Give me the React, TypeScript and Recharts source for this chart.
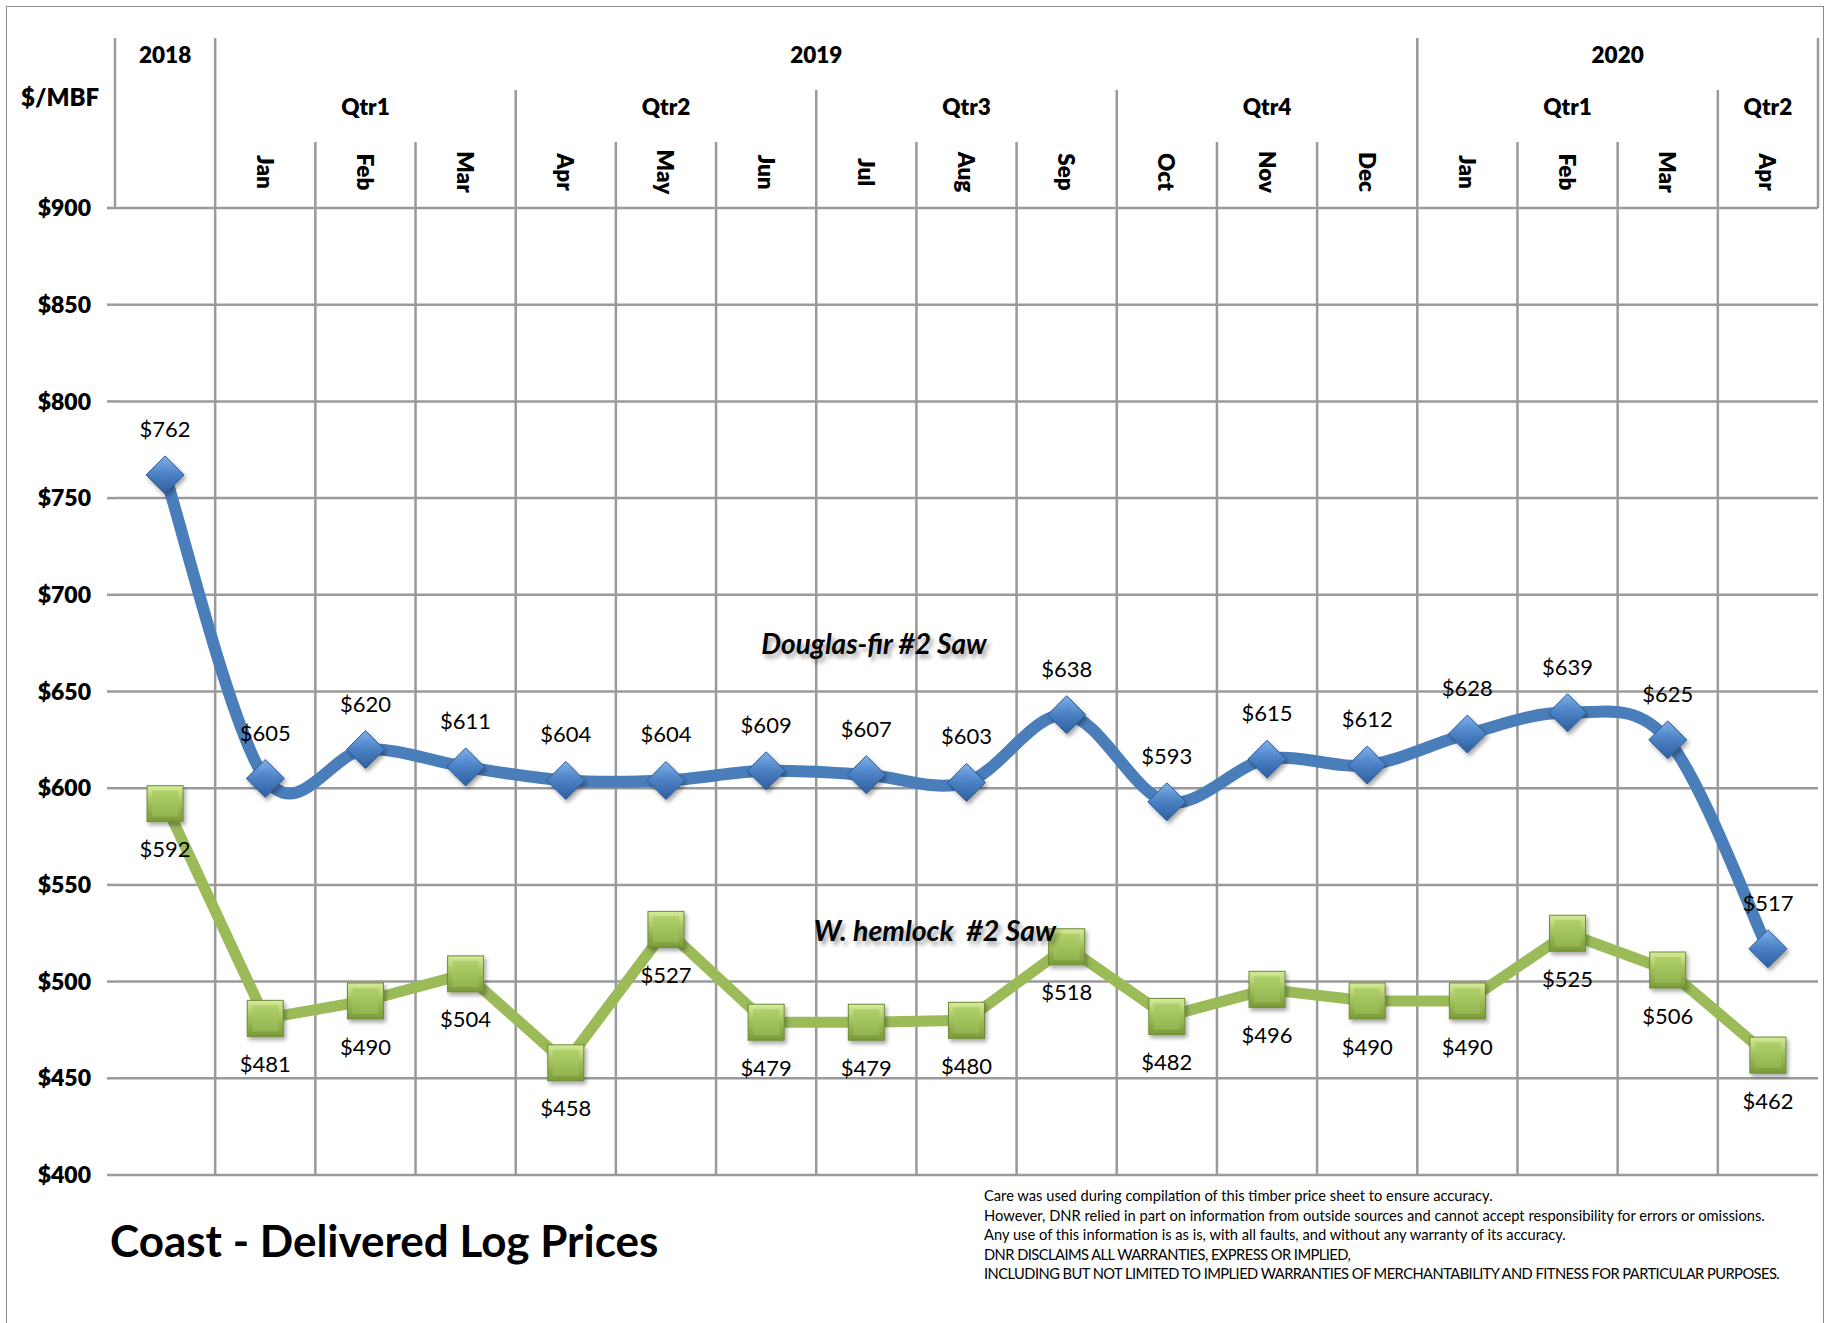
import { CartesianGrid, LabelList, Line, LineChart, XAxis, YAxis } from 'recharts'

const keys = [
  '2018', '2019-Jan', '2019-Feb', '2019-Mar', '2019-Apr', '2019-May', '2019-Jun',
  '2019-Jul', '2019-Aug', '2019-Sep', '2019-Oct', '2019-Nov', '2019-Dec',
  '2020-Jan', '2020-Feb', '2020-Mar', '2020-Apr',
]
const years = ['2018', '2019', '2019', '2019', '2019', '2019', '2019', '2019', '2019', '2019', '2019', '2019', '2019', '2020', '2020', '2020', '2020']
const quarters = ['', 'Qtr1', 'Qtr1', 'Qtr1', 'Qtr2', 'Qtr2', 'Qtr2', 'Qtr3', 'Qtr3', 'Qtr3', 'Qtr4', 'Qtr4', 'Qtr4', 'Qtr1', 'Qtr1', 'Qtr1', 'Qtr2']
const months = ['', 'Jan', 'Feb', 'Mar', 'Apr', 'May', 'Jun', 'Jul', 'Aug', 'Sep', 'Oct', 'Nov', 'Dec', 'Jan', 'Feb', 'Mar', 'Apr']

const firPrices = [762, 605, 620, 611, 604, 604, 609, 607, 603, 638, 593, 615, 612, 628, 639, 625, 517]
const hemlockPrices = [592, 481, 490, 504, 458, 527, 479, 479, 480, 518, 482, 496, 490, 490, 525, 506, 462]

const yTicks = [400, 450, 500, 550, 600, 650, 700, 750, 800, 850, 900]

const disclaimer = [
  'Care was used during compilation of this timber price sheet to ensure accuracy.',
  'However, DNR relied in part on information from outside sources and cannot accept responsibility for errors or omissions.',
  'Any use of this information is as is, with all faults, and without any warranty of its accuracy.',
  'DNR DISCLAIMS ALL WARRANTIES, EXPRESS OR IMPLIED,',
  'INCLUDING BUT NOT LIMITED TO IMPLIED WARRANTIES OF MERCHANTABILITY AND FITNESS FOR PARTICULAR PURPOSES.',
]

const data = keys.map((key, i) => ({ key, fir: firPrices[i], hemlock: hemlockPrices[i] }))

const W = 1826
const H = 1323
const Y_AXIS_W = 100
const MARGIN = { top: 8, right: 8, bottom: 148, left: 15 }
const X_AXIS_H = 200
const PLOT_LEFT = MARGIN.left + Y_AXIS_W
const PLOT_W = W - PLOT_LEFT - MARGIN.right
const COL_W = PLOT_W / keys.length

const GRID = '#9a9a9a'
const FONT = 'Lato, "Open Sans", sans-serif'

// excel style smoothing (catmull-rom through the points)
function excelSmooth(context: any) {
  let pts: Array<[number, number]> = []
  return {
    areaStart() {},
    areaEnd() {},
    lineStart() {
      pts = []
    },
    lineEnd() {
      if (!pts.length) return
      context.moveTo(pts[0][0], pts[0][1])
      for (let i = 0; i < pts.length - 1; i++) {
        const p0 = pts[Math.max(i - 1, 0)]
        const p1 = pts[i]
        const p2 = pts[i + 1]
        const p3 = pts[Math.min(i + 2, pts.length - 1)]
        context.bezierCurveTo(
          p1[0] + (p2[0] - p0[0]) / 6,
          p1[1] + (p2[1] - p0[1]) / 6,
          p2[0] - (p3[0] - p1[0]) / 6,
          p2[1] - (p3[1] - p1[1]) / 6,
          p2[0],
          p2[1],
        )
      }
    },
    point(x: number, y: number) {
      pts.push([+x, +y])
    },
  }
}

function spanLen(arr: string[], i: number) {
  let n = 1
  while (i + n < arr.length && arr[i + n] === arr[i] && years[i + n] === years[i]) n++
  return n
}

function HeaderTick(props: any) {
  const { x, y, payload } = props
  const i = keys.indexOf(payload.value)
  if (i < 0) return null
  const half = COL_W / 2
  const yearStart = i === 0 || years[i] !== years[i - 1]
  const qtrStart = yearStart || quarters[i] !== quarters[i - 1]
  const lineTop = yearStart ? y - 170 : qtrStart ? y - 118 : y - 66
  const last = i === keys.length - 1
  const textStyle = { fontFamily: FONT, fontWeight: 800, fontSize: 22.5, fill: '#000' }
  return (
    <g>
      <line x1={x - half} x2={x - half} y1={lineTop} y2={y} stroke={GRID} strokeWidth={2.5} />
      {last && <line x1={x + half} x2={x + half} y1={y - 170} y2={y} stroke={GRID} strokeWidth={2.5} />}
      {yearStart && (
        <text x={x + ((spanLen(years, i) - 1) * COL_W) / 2} y={y - 154} textAnchor="middle" dominantBaseline="central" {...textStyle}>
          {years[i]}
        </text>
      )}
      {qtrStart && quarters[i] && (
        <text x={x + ((spanLen(quarters, i) - 1) * COL_W) / 2} y={y - 102} textAnchor="middle" dominantBaseline="central" {...textStyle}>
          {quarters[i]}
        </text>
      )}
      {months[i] && (
        <text
          x={x}
          y={y - 36}
          transform={`rotate(90 ${x} ${y - 36})`}
          textAnchor="middle"
          dominantBaseline="central"
          {...textStyle}
        >
          {months[i]}
        </text>
      )}
    </g>
  )
}

function Diamond(props: any) {
  const { cx, cy } = props
  if (cx == null || cy == null) return null
  const w = 19
  const h = 19
  const iw = 9
  const ih = 9
  return (
    <g filter="url(#markerShadow)">
      <polygon points={`${cx},${cy - h} ${cx + w},${cy} ${cx},${cy + h} ${cx - w},${cy}`} fill="url(#firOuter)" stroke="#2e5a90" strokeWidth={1} />
      <polygon points={`${cx},${cy - ih} ${cx + iw},${cy} ${cx},${cy + ih} ${cx - iw},${cy}`} fill="url(#firInner)" />
    </g>
  )
}

function Square(props: any) {
  const { cx, cy } = props
  if (cx == null || cy == null) return null
  const s = 18
  const inset = 5
  return (
    <g filter="url(#markerShadow)">
      <rect x={cx - s} y={cy - s} width={s * 2} height={s * 2} fill="url(#hemOuter)" stroke="#6e8a35" strokeWidth={1} />
      <rect x={cx - s + inset} y={cy - s + inset} width={(s - inset) * 2} height={(s - inset) * 2} fill="url(#hemInner)" />
    </g>
  )
}

export default function App() {
  return (
    <div style={{ position: 'absolute', left: 0, top: 0, width: W, height: H, overflow: 'hidden', background: '#fff', fontFamily: FONT }}>
      <div style={{ position: 'absolute', left: 6, top: 6, width: 1816, height: H + 20, border: '1.5px solid #8c8c8c' }} />
      <LineChart width={W} height={H} data={data} margin={MARGIN} style={{ position: 'absolute', left: 0, top: 0 }}>
        <defs>
          <filter id="markerShadow" x="-50%" y="-50%" width="200%" height="200%">
            <feDropShadow dx="2" dy="3" stdDeviation="2" floodColor="#000" floodOpacity="0.35" />
          </filter>
          <linearGradient id="firOuter" x1="0" y1="0" x2="0" y2="1">
            <stop offset="0%" stopColor="#7fb0ea" />
            <stop offset="50%" stopColor="#4a80c4" />
            <stop offset="100%" stopColor="#2d5f9e" />
          </linearGradient>
          <linearGradient id="firInner" x1="0" y1="0" x2="0" y2="1">
            <stop offset="0%" stopColor="#5b92d6" />
            <stop offset="100%" stopColor="#3d70b0" />
          </linearGradient>
          <linearGradient id="hemOuter" x1="0" y1="0" x2="0" y2="1">
            <stop offset="0%" stopColor="#d6ec9a" />
            <stop offset="45%" stopColor="#a3c35e" />
            <stop offset="100%" stopColor="#789a38" />
          </linearGradient>
          <linearGradient id="hemInner" x1="0" y1="0" x2="0" y2="1">
            <stop offset="0%" stopColor="#b1d06a" />
            <stop offset="100%" stopColor="#93b450" />
          </linearGradient>
        </defs>
        <CartesianGrid
          stroke={GRID}
          strokeWidth={2.5}
          horizontal
          vertical
          verticalCoordinatesGenerator={(args: any) => {
            const left = args?.offset?.left ?? PLOT_LEFT
            const width = args?.offset?.width ?? PLOT_W
            return keys.map((_, i) => left + (i * width) / keys.length).slice(1)
          }}
        />
        <XAxis
          dataKey="key"
          orientation="top"
          scale="band"
          height={X_AXIS_H}
          interval={0}
          tickLine={false}
          axisLine={false}
          tickSize={0}
          tickMargin={0}
          tick={<HeaderTick />}
        />
        <YAxis
          domain={[400, 900]}
          ticks={yTicks}
          interval={0}
          width={Y_AXIS_W}
          axisLine={false}
          tickSize={8}
          tickMargin={16}
          tickLine={{ stroke: GRID, strokeWidth: 2.5 }}
          tickFormatter={(v) => `$${v}`}
          tick={{ fill: '#000', fontSize: 23, fontWeight: 800, fontFamily: FONT }}
        />
        <Line
          dataKey="hemlock"
          type="linear"
          stroke="#9bbb59"
          strokeWidth={11}
          isAnimationActive={false}
          dot={(p: any) => <Square key={`h${p.index}`} {...p} />}
          activeDot={false}
        >
          <LabelList
            dataKey="hemlock"
            position="bottom"
            offset={38}
            formatter={(v: any) => `$${v}`}
            fill="#000"
            fontSize={22}
            fontFamily={FONT}
          />
        </Line>
        <Line
          dataKey="fir"
          type={excelSmooth as any}
          stroke="#4a7ebb"
          strokeWidth={12}
          isAnimationActive={false}
          dot={(p: any) => <Diamond key={`f${p.index}`} {...p} />}
          activeDot={false}
        >
          <LabelList
            dataKey="fir"
            position="top"
            offset={38}
            formatter={(v: any) => `$${v}`}
            fill="#000"
            fontSize={22}
            fontFamily={FONT}
          />
        </Line>
      </LineChart>
      <div style={{ position: 'absolute', left: 21, top: 96, transform: 'translateY(-50%)', fontWeight: 800, fontSize: 24 }}>$/MBF</div>
      <div
        style={{
          position: 'absolute', left: 874, top: 643, transform: 'translate(-50%, -50%)', whiteSpace: 'nowrap',
          fontWeight: 700, fontStyle: 'italic', fontSize: 28, textShadow: '3px 4px 4px rgba(0,0,0,0.35)',
        }}
      >
        Douglas-fir #2 Saw
      </div>
      <div
        style={{
          position: 'absolute', left: 935, top: 930, transform: 'translate(-50%, -50%)', whiteSpace: 'pre',
          fontWeight: 700, fontStyle: 'italic', fontSize: 28.5, textShadow: '3px 4px 4px rgba(0,0,0,0.35)',
        }}
      >
        {'W. hemlock  #2 Saw'}
      </div>
      <div style={{ position: 'absolute', left: 110, top: 1240, transform: 'translateY(-50%)', fontWeight: 700, fontSize: 44, whiteSpace: 'nowrap' }}>
        Coast - Delivered Log Prices
      </div>
      <div style={{ position: 'absolute', left: 984, top: 1186, fontSize: 14.7, lineHeight: '19.5px', whiteSpace: 'nowrap' }}>
        {disclaimer.map((t, i) => (
          <div key={t} style={{ letterSpacing: i >= 3 ? '-0.55px' : '0px' }}>{t}</div>
        ))}
      </div>
    </div>
  )
}
